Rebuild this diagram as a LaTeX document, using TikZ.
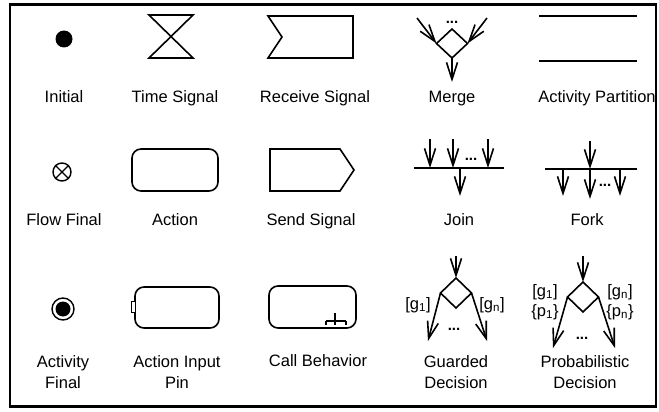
\documentclass[tikz,border=0pt]{standalone}
\usepackage{fontspec}
\setmainfont{Liberation Sans}
\usetikzlibrary{arrows.meta,shapes.geometric}
\begin{document}
\begin{tikzpicture}[x=1pt,y=-1pt,
  shp/.style={draw=black, line width=1.6pt},
  lbl/.style={font=\fontsize{16.5}{21}\selectfont, align=center, inner sep=0pt, anchor=base},
  sm/.style={font=\fontsize{16.5}{19}\selectfont, inner sep=0pt},
  ellip/.style={font=\bfseries\fontsize{15}{15}\selectfont, inner sep=0pt, anchor=base},
  arr/.style={line width=1.6pt, -{Straight Barb[length=17pt,width=11pt,line width=1.6pt]}},
  bar/.style={line width=1.8pt},
  dia/.style={diamond, draw=black, line width=1.6pt, minimum width=31pt, minimum height=30pt, inner sep=0pt, outer sep=0pt},
  act/.style={draw=black, line width=1.6pt, rounded corners=9pt, inner sep=0pt, outer sep=0pt}
]
\useasboundingbox (0,0) rectangle (659,412);
\draw[line width=2.5pt] (10,4.5) rectangle (656,406.5);

% ---- Row 1 ----
\node[circle, fill=black, minimum size=17pt, inner sep=0pt] (init) at (64,39) {};
\node[lbl] (initL) at (64,102.7) {Initial};

\draw[shp, line join=miter] (149,15) -- (193,15) -- (149,58) -- (193,58) -- cycle;
\node[lbl] (timeL) at (175,102.7) {Time Signal};

\draw[shp, line join=miter] (268,16) -- (353,16) -- (353,58) -- (268,58) -- (282,37) -- cycle;
\node[lbl] (recvL) at (315,102.7) {Receive Signal};

\node[dia, minimum height=29pt] (merge) at (452,43.5) {};
\coordinate (mIn1) at (417,18);
\coordinate (mIn2) at (487,18);
\coordinate (mOut) at (452,82);
\draw[arr] (mIn1) -- (merge.west);
\draw[arr] (mIn2) -- (merge.east);
\draw[arr] (merge.south) -- (mOut);
\node[ellip] (mDots) at (452,24) {...};
\node[lbl] (mergeL) at (452,102.7) {Merge};

\coordinate (p1a) at (539,16);
\coordinate (p1b) at (637,16);
\coordinate (p2a) at (539,61);
\coordinate (p2b) at (637,61);
\draw[shp] (p1a) -- (p1b);
\draw[shp] (p2a) -- (p2b);
\node[lbl] (partL) at (597,102.7) {Activity Partition};

% ---- Row 2 ----
\node[circle, draw=black, line width=1.4pt, minimum size=18pt, inner sep=0pt] (ff) at (62,172) {};
\draw[line width=1.4pt] (ff.north west) -- (ff.south east);
\draw[line width=1.4pt] (ff.north east) -- (ff.south west);
\node[lbl] (ffL) at (64,225.7) {Flow Final};

\node[act, minimum width=86pt, minimum height=42pt] (action) at (175,170) {};
\node[lbl] (actionL) at (175,225.7) {Action};

\draw[shp, line join=miter] (270,149) -- (340,149) -- (354,170) -- (340,191) -- (270,191) -- cycle;
\node[lbl] (sendL) at (311,225.7) {Send Signal};

% Join
\coordinate (jb1) at (414,168);
\coordinate (jb2) at (504,168);
\draw[bar] (jb1) -- (jb2);
\coordinate (ji1) at (430,139);
\coordinate (ji1e) at (430,168);
\coordinate (ji2) at (453,139);
\coordinate (ji2e) at (453,168);
\coordinate (ji3) at (488,139);
\coordinate (ji3e) at (488,168);
\coordinate (jo) at (460,168);
\coordinate (joe) at (460,196);
\draw[arr] (ji1) -- (ji1e);
\draw[arr] (ji2) -- (ji2e);
\draw[arr] (ji3) -- (ji3e);
\draw[arr] (jo) -- (joe);
\node[ellip] (jDots) at (471,160) {...};
\node[lbl] (joinL) at (459,225.7) {Join};

% Fork
\coordinate (fb1) at (545,169);
\coordinate (fb2) at (637,169);
\draw[bar] (fb1) -- (fb2);
\coordinate (fi) at (590,141);
\coordinate (fie) at (590,169);
\coordinate (fo1) at (563,169);
\coordinate (fo1e) at (563,196);
\coordinate (fo2) at (590,169);
\coordinate (fo2e) at (590,199);
\coordinate (fo3) at (620,169);
\coordinate (fo3e) at (620,196);
\draw[arr] (fi) -- (fie);
\draw[arr] (fo1) -- (fo1e);
\draw[arr] (fo2) -- (fo2e);
\draw[arr] (fo3) -- (fo3e);
\node[ellip] (fDots) at (605,186) {...};
\node[lbl] (forkL) at (587,225.7) {Fork};

% ---- Row 3 ----
\node[circle, draw=black, line width=1.4pt, minimum size=22pt, inner sep=0pt] (af) at (63,309) {};
\node[circle, fill=black, minimum size=15pt, inner sep=0pt] (afIn) at (63,309) {};
\node[lbl] (afL) at (63,388) {Activity\\Final};

\node[act, minimum width=84pt, minimum height=41pt] (pinAct) at (177,307.5) {};
\node[draw=black, line width=0.9pt, fill=white, minimum width=4pt, minimum height=11pt, inner sep=0pt] (pin) at (133,306.5) {};
\node[lbl] (pinL) at (177,388) {Action Input\\Pin};

\node[act, minimum width=87pt, minimum height=42pt] (call) at (312.5,307) {};
\coordinate (rk1) at (326,321);
\coordinate (rk2) at (346,321);
\coordinate (rkT) at (335,313);
\coordinate (rkB) at (335,325);
\draw[line width=1.2pt] (rk1) -- (rk2);
\draw[line width=1.2pt] (rkT) -- (rkB);
\draw[line width=1.2pt] (rk1) -- ++(0,4);
\draw[line width=1.2pt] (rk2) -- ++(0,4);
\node[lbl] (callL) at (318,366.7) {Call Behavior};

% Guarded decision
\node[dia] (gd) at (456,293) {};
\coordinate (gdIn) at (456,256);
\coordinate (gdL) at (428,341);
\coordinate (gdR) at (487,341);
\draw[arr] (gdIn) -- (gd.north);
\draw[arr] (gd.west) -- (gdL);
\draw[arr] (gd.east) -- (gdR);
\node[sm] (g1) at (418,305) {[g\textsubscript{1}]};
\node[sm] (gn) at (492,305) {[g\textsubscript{n}]};
\node[ellip] (gdDots) at (454,330) {...};
\node[lbl] (gdLbl) at (456,388) {Guarded\\Decision};

% Probabilistic decision
\node[dia] (pd) at (583,297) {};
\coordinate (pdIn) at (583,256);
\coordinate (pdL) at (553,348);
\coordinate (pdR) at (615,348);
\draw[arr] (pdIn) -- (pd.north);
\draw[arr] (pd.west) -- (pdL);
\draw[arr] (pd.east) -- (pdR);
\node[sm] (pg1) at (545,292) {[g\textsubscript{1}]};
\node[sm] (pp1) at (545,312) {\{p\textsubscript{1}\}};
\node[sm] (pgn) at (620,292) {[g\textsubscript{n}]};
\node[sm] (ppn) at (620,312) {\{p\textsubscript{n}\}};
\node[ellip] (pdDots) at (582,339) {...};
\node[lbl] (pdLbl) at (585,388) {Probabilistic\\Decision};
\end{tikzpicture}
\end{document}
